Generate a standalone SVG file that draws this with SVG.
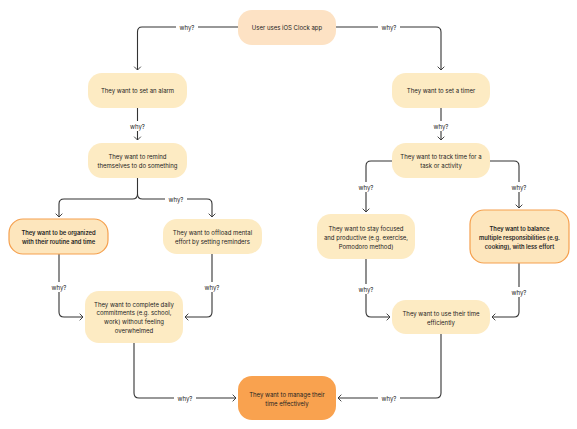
<svg xmlns="http://www.w3.org/2000/svg" width="577" height="429" viewBox="0 0 577 429">
<style>
.n{fill:#fdebc3;}
.s{fill:#fde2c4;}
.o{fill:#fde6bd;stroke:#f5a04e;stroke-width:1.2;}
.m{fill:#f9a24f;}
text{font-family:Inter,"Liberation Sans",sans-serif;font-size:6px;fill:#222;text-anchor:middle;dominant-baseline:central;}
.b{font-weight:600;font-size:5.8px;}
.c path{fill:none;stroke:#333;stroke-width:1.1;}
.lb rect{fill:#fff;}
</style>
<defs>
<marker id="ah" markerUnits="userSpaceOnUse" markerWidth="10" markerHeight="10" refX="0" refY="0" viewBox="-6 -6 12 12" orient="auto">
<path d="M-4,-4 L0,0 L-4,4" fill="none" stroke="#333" stroke-width="1.1"/>
</marker>
</defs>
<rect width="577" height="429" fill="#fff"/>
<g class="c" id="connectors">
<path d="M238,27 H142 Q137.5,27 137.5,32 V70" marker-end="url(#ah)"/>
<path d="M336,27 H436 Q441,27 441,32 V70" marker-end="url(#ah)"/>
<path d="M137.5,108 V140" marker-end="url(#ah)"/>
<path d="M441,108 V140" marker-end="url(#ah)"/>
<path d="M137.5,178 V194 Q137.5,199 132.5,199 H64 Q59,199 59,204 V217" marker-end="url(#ah)"/>
<path d="M137.5,194 Q137.5,199 142.5,199 H207 Q212,199 212,204 V217" marker-end="url(#ah)"/>
<path d="M59,254 V312 Q59,317 64,317 H83" marker-end="url(#ah)"/>
<path d="M212,254 V312 Q212,317 207,317 H185" marker-end="url(#ah)"/>
<path d="M134,343 V393 Q134,398 139,398 H236" marker-end="url(#ah)"/>
<path d="M392,161 H371 Q366,161 366,166 V212" marker-end="url(#ah)"/>
<path d="M490,161 H514 Q519,161 519,166 V208" marker-end="url(#ah)"/>
<path d="M366,259 V312 Q366,317 371,317 H390" marker-end="url(#ah)"/>
<path d="M519,263 V312 Q519,317 514,317 H492" marker-end="url(#ah)"/>
<path d="M441,334 V393 Q441,398 436,398 H338" marker-end="url(#ah)"/>
<g class="lb">
<rect x="176" y="22" width="22" height="10"/><text x="187" y="27">why?</text>
<rect x="378" y="22" width="22" height="10"/><text x="389" y="27">why?</text>
<rect x="126.5" y="121" width="22" height="10"/><text x="137.5" y="126">why?</text>
<rect x="430" y="121" width="22" height="10"/><text x="441" y="126">why?</text>
<rect x="165" y="194" width="22" height="10"/><text x="176" y="199">why?</text>
<rect x="48" y="282" width="22" height="10"/><text x="59" y="287">why?</text>
<rect x="201" y="282" width="22" height="10"/><text x="212" y="287">why?</text>
<rect x="174" y="393" width="22" height="10"/><text x="185" y="398">why?</text>
<rect x="355" y="182" width="22" height="10"/><text x="366" y="187">why?</text>
<rect x="508" y="182" width="22" height="10"/><text x="519" y="187">why?</text>
<rect x="355" y="284" width="22" height="10"/><text x="366" y="289">why?</text>
<rect x="508" y="287" width="22" height="10"/><text x="519" y="292">why?</text>
<rect x="378" y="393" width="22" height="10"/><text x="389" y="398">why?</text>
</g>
</g>
<g id="n-start"><rect class="s" x="238" y="10" width="98" height="35" rx="14"/><text x="287" y="27.5">User uses iOS Clock app</text></g>
<g id="n-alarm"><rect class="n" x="88" y="73" width="99" height="35" rx="14"/><text x="137.5" y="90.5">They want to set an alarm</text></g>
<g id="n-timer"><rect class="n" x="392" y="73" width="98" height="35" rx="14"/><text x="441" y="90.5">They want to set a timer</text></g>
<g id="n-remind"><rect class="n" x="88" y="143" width="99" height="35" rx="14"/><text x="137.5" y="156.5">They want to remind</text><text x="137.5" y="165.5">themselves to do something</text></g>
<g id="n-track"><rect class="n" x="392" y="143" width="98" height="35" rx="14"/><text x="441" y="156.5">They want to track time for a</text><text x="441" y="165.5">task or activity</text></g>
<g id="n-organized"><rect class="o" x="9" y="219" width="99" height="35" rx="14"/><text class="b" x="58.5" y="232.5">They want to be organized</text><text class="b" x="58.5" y="241.5">with their routine and time</text></g>
<g id="n-offload"><rect class="n" x="163" y="219" width="99" height="35" rx="14"/><text x="212.5" y="232.5">They want to offload mental</text><text x="212.5" y="241.5">effort by setting reminders</text></g>
<g id="n-focused"><rect class="n" x="317" y="214" width="98" height="45" rx="14"/><text x="366" y="228.5">They want to stay focused</text><text x="366" y="237.5">and productive (e.g. exercise,</text><text x="366" y="246">Pomodoro method)</text></g>
<g id="n-balance"><rect class="o" x="470" y="210" width="99" height="53" rx="14"/><text class="b" x="519.5" y="228.5">They want to balance</text><text class="b" x="519.5" y="237.5">multiple responsibilities (e.g.</text><text class="b" x="519.5" y="246">cooking), with less effort</text></g>
<g id="n-complete"><rect class="n" x="85" y="291" width="98" height="52" rx="14"/><text x="134" y="304">They want to complete daily</text><text x="134" y="312.5">commitments (e.g. school,</text><text x="134" y="321.5">work) without feeling</text><text x="134" y="330.5">overwhelmed</text></g>
<g id="n-efficient"><rect class="n" x="392" y="300" width="98" height="34" rx="14"/><text x="441" y="313">They want to use their time</text><text x="441" y="322">efficiently</text></g>
<g id="n-manage"><rect class="m" x="238" y="376" width="98" height="44" rx="14"/><text x="287" y="394">They want to manage their</text><text x="287" y="403">time effectively</text></g>
</svg>
